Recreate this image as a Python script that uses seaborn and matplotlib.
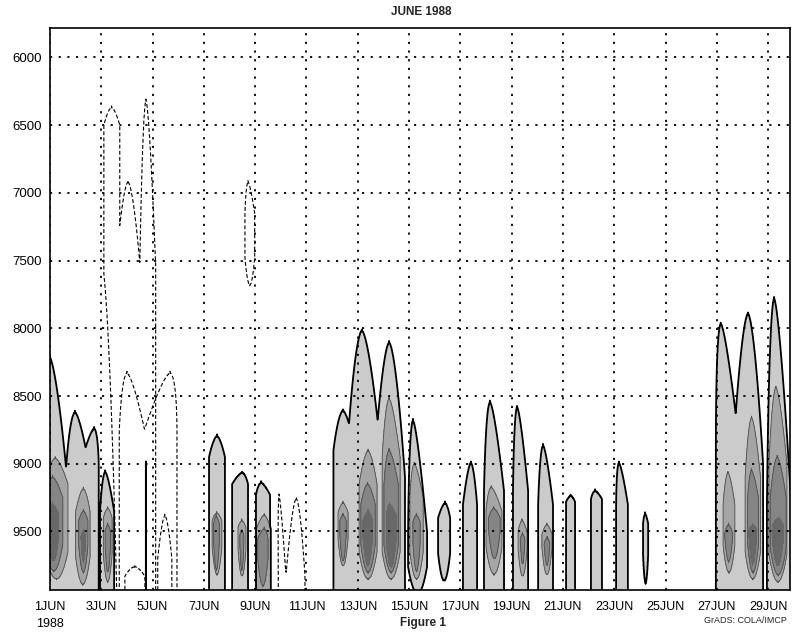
import numpy as np
import matplotlib
matplotlib.use("Agg")
import matplotlib.pyplot as plt
import seaborn as sns

# ---------------------------------------------------------------------
# Axes: time in days after 1 JUN 1988 00Z, height (axis inverted)
# ---------------------------------------------------------------------
X_MIN, X_MAX = 0.0, 28.85
Y_TOP, Y_BOT = 5783, 9932

tick_days = list(range(0, 29, 2))
tick_names = ["1JUN\n1988"] + [f"{d}JUN" for d in range(3, 30, 2)]
height_ticks = [6000, 6500, 7000, 7500, 8000, 8500, 9000, 9500]

# ---------------------------------------------------------------------
# Shaded cells.
# level: shade class (1 light .. 4 darkest); left/right: base extent (days);
# peak: day of the top; top: height of the tip; full: height where the
# cell reaches full width; bottom: height where the cell closes below.
# ---------------------------------------------------------------------
cell_level = [1, 1, 1, 1, 2, 3, 4, 2, 3, 4, 2, 3,
              1,
              1, 2, 3, 1, 2, 3, 1, 2, 3,
              1, 1, 1, 2, 3, 2, 3, 4, 2, 3, 4,
              1, 2, 3, 1, 1, 1, 2, 3, 1, 2, 3, 1, 2, 3, 1, 1, 1, 1,
              1, 1, 1, 2, 3, 2, 3, 4, 2, 3, 4]
cell_left = [-0.8, 0.6, 1.2, 1.95, -0.2, -0.2, -0.1, 1.0, 1.12, 1.2, 2.08, 2.15,
             3.735,
             6.2, 6.32, 6.38, 7.1, 7.33, 7.4, 8.03, 8.05, 8.1,
             11.05, 11.55, 12.6, 11.23, 11.3, 12.05, 12.12, 12.2, 12.95, 13.02, 13.1,
             13.96, 14.03, 14.15, 15.13, 16.1, 16.92, 17.0, 17.1, 18.05, 18.25, 18.33,
             19.03, 19.18, 19.25, 20.12, 21.09, 22.07, 23.12,
             25.96, 26.6, 27.95, 26.24, 26.3, 27.1, 27.2, 27.25, 28.03, 28.08, 28.15]
cell_right = [0.85, 1.6, 1.9, 2.5, 0.7, 0.5, 0.35, 1.56, 1.48, 1.4, 2.42, 2.36,
              3.745,
              6.82, 6.7, 6.6, 7.72, 7.64, 7.56, 8.58, 8.6, 8.5,
              11.9, 12.95, 13.84, 11.62, 11.55, 12.75, 12.68, 12.58, 13.65, 13.58, 13.5,
              14.7, 14.55, 14.43, 15.6, 16.65, 17.7, 17.62, 17.55, 18.64, 18.6, 18.52,
              19.61, 19.57, 19.5, 20.47, 21.52, 22.53, 23.32,
              26.9, 27.8, 28.9, 26.7, 26.62, 27.7, 27.62, 27.55, 28.73, 28.7, 28.6]
cell_peak = [-0.05, 0.97, 1.72, 2.15, 0.2, 0.1, 0.1, 1.3, 1.3, 1.3, 2.25, 2.25,
             3.74,
             6.51, 6.5, 6.48, 7.49, 7.48, 7.48, 8.23, 8.35, 8.35,
             11.42, 12.16, 13.22, 11.42, 11.42, 12.4, 12.38, 12.4, 13.22, 13.22, 13.25,
             14.15, 14.2, 14.28, 15.4, 16.41, 17.15, 17.2, 17.3, 18.21, 18.4, 18.42,
             19.22, 19.37, 19.38, 20.3, 21.25, 22.18, 23.2,
             26.15, 27.21, 28.23, 26.43, 26.45, 27.35, 27.35, 27.4, 28.3, 28.35, 28.4]
cell_top = [8200, 8620, 8740, 9060, 8960, 9100, 9300, 9185, 9350, 9500, 9330, 9450,
            8993,
            8795, 9364, 9390, 9066, 9420, 9500, 9140, 9380, 9480,
            8608, 8017, 8105, 9290, 9380, 8905, 9150, 9350, 8520, 8900, 9300,
            8680, 9000, 9380, 9290, 8993, 8545, 9175, 9330, 8582, 9420, 9520,
            8865, 9450, 9550, 9236, 9200, 8993, 9370,
            7966, 7892, 7780, 9066, 9450, 8660, 9050, 9450, 8437, 8950, 9400]
cell_full = [9500, 9100, 9000, 9350, 9150, 9250, 9380, 9350, 9420, 9540, 9400, 9500,
             9000,
             8950, 9420, 9440, 9150, 9470, 9530, 9230, 9480, 9550,
             8900, 9000, 9100, 9360, 9420, 9150, 9300, 9420, 8950, 9150, 9380,
             9500, 9250, 9430, 9400, 9300, 9200, 9350, 9400, 9200, 9500, 9560,
             9300, 9520, 9590, 9280, 9260, 9300, 9440,
             8900, 9000, 9300, 9300, 9520, 9100, 9250, 9490, 9000, 9250, 9460]
cell_bottom = [10500, 10500, 10500, 10500, 9850, 9790, 9720, 9890, 9800, 9720, 9870, 9800,
               10500,
               10500, 9815, 9780, 10500, 9830, 9780, 10500, 10500, 9900,
               10500, 10500, 10500, 9755, 9720, 9850, 9800, 9750, 9850, 9800, 9760,
               9960, 9850, 9790, 9863, 10500, 10500, 9815, 9700, 10500, 9830, 9740,
               10500, 9820, 9750, 10500, 10500, 10500, 9880,
               10500, 10500, 10500, 9800, 9720, 9850, 9800, 9740, 9870, 9820, 9750]

# ---------------------------------------------------------------------
# Dashed contours: outlines grouped; sign -1 cuts a notch out of its group
# ---------------------------------------------------------------------
dash_group = [0, 0, 0, 0, 1, 1, 1, 1, 2, 3, 3, 3]
dash_sign = [1, 1, 1, -1, 1, 1, -1, -1, 1, 1, 1, 1]
dash_left = [2.1, 2.57, 3.5, 1.2, 2.7, 3.68, 2.92, 4.2, 7.6, 8.9, 9.2, 8.9]
dash_right = [2.72, 3.51, 4.12, 2.6, 3.7, 4.95, 3.7, 4.75, 7.98, 9.2, 9.94, 9.9]
dash_peak = [2.4, 3.04, 3.74, 2.0, 3.0, 4.68, 3.3, 4.48, 7.72, 8.93, 9.6, 9.2]
dash_top = [6370, 6920, 6316, 7500, 8330, 8330, 9760, 9383, 6920, 9234, 9256, 9800]
dash_full = [6500, 7535, 7535, 9936, 8760, 8750, 9830, 9700, 7150, 9825, 9825, 9850]
dash_bottom = [10500, 10500, 10500, 10500, 10500, 10500, 10500, 10500, 7680, 10500, 10500, 10500]

fill_colors = ["#cbcbcb", "#a5a5a5", "#858585", "#686868"]

# ---------------------------------------------------------------------
t_grid = np.arange(-1.0, 29.6, 0.01)
z_grid = np.arange(5700.0, 10005.0, 5.0)


def cell_distance(tt, zz, left, right, peak, top, full, bottom):
    grow = np.clip((zz - top) / (full - top), 0.0, 1.0)
    mid = peak + (0.5 * (left + right) - peak) * grow
    half = 0.5 * (right - left) * grow ** 0.6
    half = half * np.clip((bottom - zz) / 200.0, 0.0, 1.0) ** 0.5
    return np.abs(tt - mid) / np.maximum(half, 1e-6)


def build_field(levels, lefts, rights, peaks, tops, fulls, bottoms, signs):
    field = np.zeros((len(z_grid), len(t_grid)))
    cut = np.full_like(field, 10.0)
    for i in range(len(levels)):
        lo = min(lefts[i], peaks[i]) - 0.15
        hi = max(rights[i], peaks[i]) + 0.15
        ci = slice(np.searchsorted(t_grid, lo), np.searchsorted(t_grid, hi))
        ri = slice(np.searchsorted(z_grid, tops[i] - 10),
                   np.searchsorted(z_grid, bottoms[i] + 10))
        tt, zz = np.meshgrid(t_grid[ci], z_grid[ri])
        r = cell_distance(tt, zz, lefts[i], rights[i], peaks[i],
                          tops[i], fulls[i], bottoms[i])
        val = np.clip(levels[i] + 30.0 * (1.0 - r), 0.0, levels[i] + 0.5)
        if signs[i] < 0:
            cut[ri, ci] = np.minimum(cut[ri, ci], 2.0 - val)
        else:
            field[ri, ci] = np.maximum(field[ri, ci], val)
    return np.minimum(field, cut)


sns.set_theme(style="white")
plt.rcParams["font.family"] = ["Liberation Sans", "DejaVu Sans"]

fig = plt.figure(figsize=(7.97, 6.40), dpi=100)
ax = fig.add_axes([50 / 797, 1 - 590 / 640, 740 / 797, 562 / 640])

# dashed outlines (under the shading)
for g in sorted(set(dash_group)):
    idx = [i for i, d in enumerate(dash_group) if d == g]
    fld = build_field([1] * len(idx),
                      [dash_left[i] for i in idx], [dash_right[i] for i in idx],
                      [dash_peak[i] for i in idx], [dash_top[i] for i in idx],
                      [dash_full[i] for i in idx], [dash_bottom[i] for i in idx],
                      [dash_sign[i] for i in idx])
    ax.contour(t_grid, z_grid, fld, levels=[1.0], colors="black",
               linewidths=0.8, linestyles=[(0, (3.5, 2.0))], zorder=1.5)

echo = build_field(cell_level, cell_left, cell_right, cell_peak,
                   cell_top, cell_full, cell_bottom, [1] * len(cell_level))
ax.contourf(t_grid, z_grid, echo, levels=[1, 2, 3, 4, 10],
            colors=fill_colors, zorder=1.8)
ax.contour(t_grid, z_grid, echo, levels=[2, 3], colors="#4d4d4d",
           linewidths=0.6, zorder=1.9)
ax.contour(t_grid, z_grid, echo, levels=[1], colors="black",
           linewidths=1.3, zorder=1.95)

ax.set_xlim(X_MIN, X_MAX)
ax.set_ylim(Y_BOT, Y_TOP)
ax.set_xticks(tick_days)
ax.set_xticklabels(tick_names, fontsize=9, ha="center", linespacing=1.5)
ax.set_yticks(height_ticks)
ax.set_yticklabels([str(h) for h in height_ticks], fontsize=9.5)
ax.tick_params(axis="x", length=0, pad=8, colors="black")
ax.tick_params(axis="y", length=0, pad=6, colors="black")
ax.set_axisbelow(False)
ax.grid(True, color="black", linestyle=(0, (1.2, 3.6)), linewidth=1.3)
for sp in ax.spines.values():
    sp.set_color("black")
    sp.set_linewidth(1.2)

fig.text(0.529, 0.981, "JUNE 1988", ha="center", va="center",
         fontsize=8.5, fontweight="bold")
fig.text(0.531, 0.027, "Figure 1", ha="center", va="center",
         fontsize=8.5, fontweight="bold")
fig.text(0.935, 0.031, "GrADS: COLA/IMCP", ha="center", va="center",
         fontsize=6.5)

fig.savefig("out.png", dpi=100)
